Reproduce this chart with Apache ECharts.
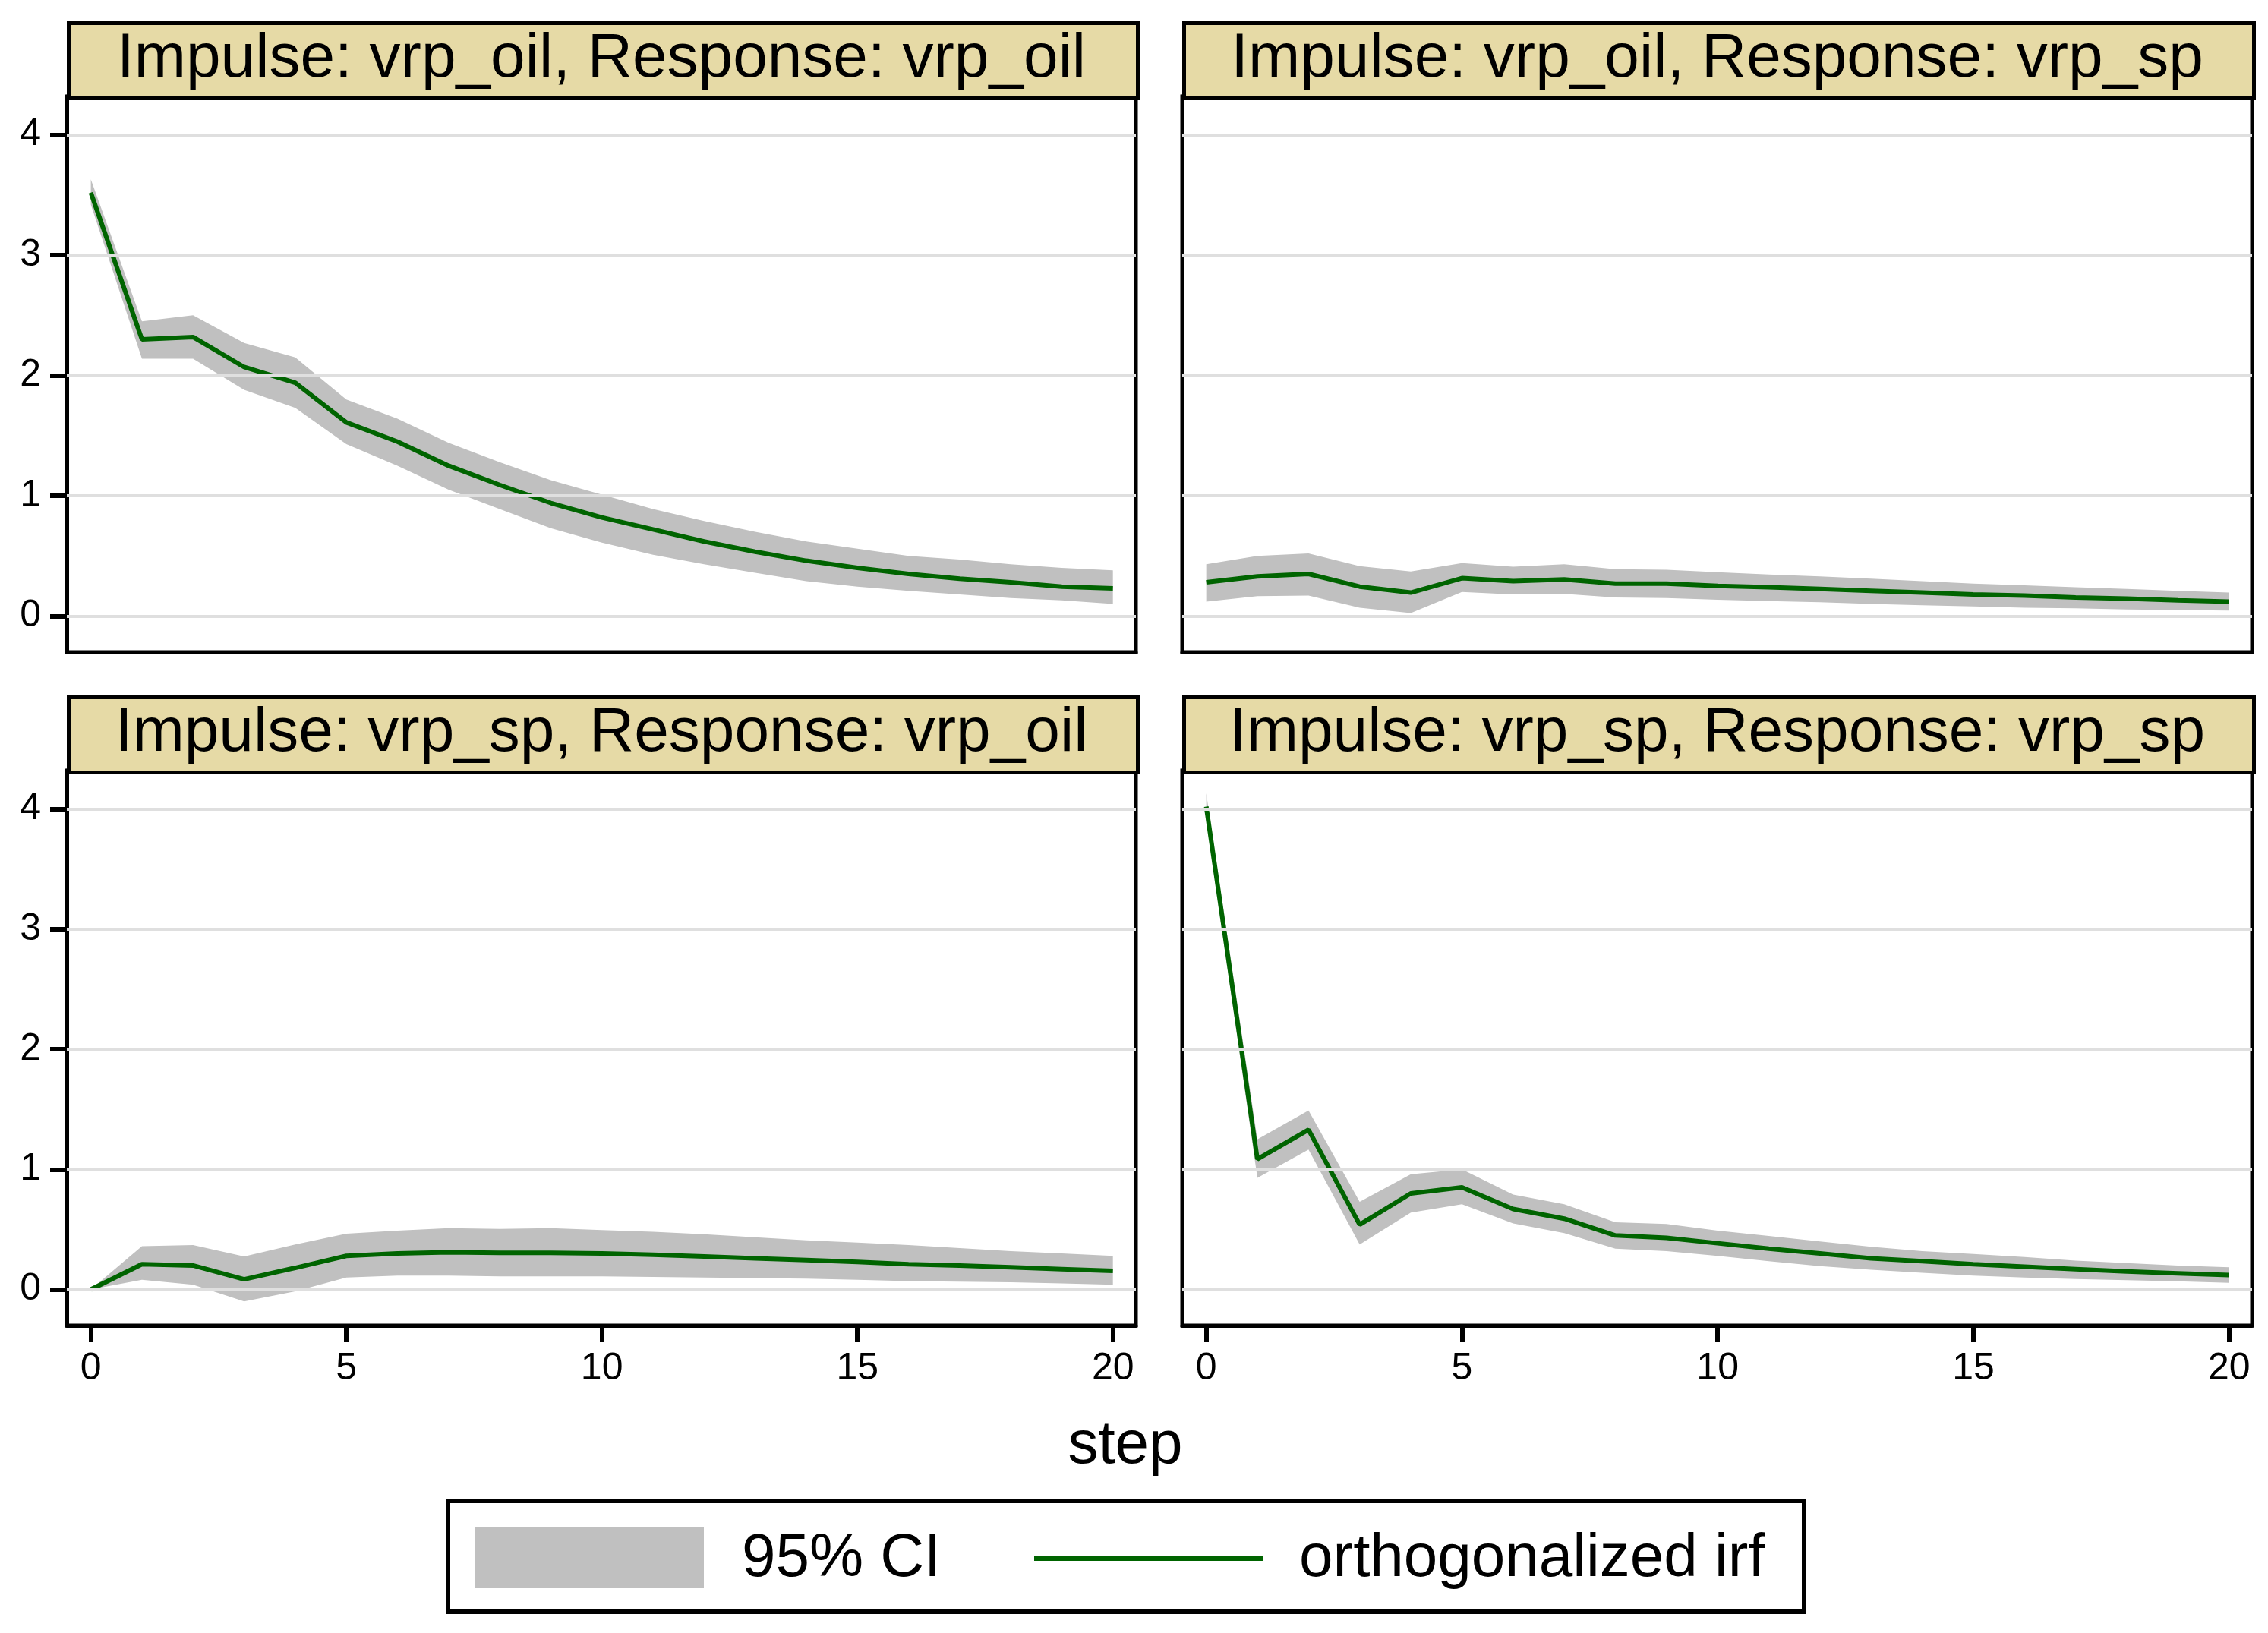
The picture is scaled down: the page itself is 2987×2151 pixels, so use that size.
<!DOCTYPE html>
<html>
<head>
<meta charset="utf-8">
<script src="https://cdn.jsdelivr.net/npm/echarts@6/dist/echarts.min.js"></script>
<style>html,body{margin:0;padding:0;background:#fff;}#c{width:2987px;height:2151px;}</style>
</head>
<body>
<div id="c"></div>
<script>
// ---- data ----
const steps = [0,1,2,3,4,5,6,7,8,9,10,11,12,13,14,15,16,17,18,19,20];
const xTicks = [0,5,10,15,20];
const yTicks = [0,1,2,3,4];
const panelTitles = [
  'Impulse: vrp_oil, Response: vrp_oil',
  'Impulse: vrp_oil, Response: vrp_sp',
  'Impulse: vrp_sp, Response: vrp_oil',
  'Impulse: vrp_sp, Response: vrp_sp'
];
const legendLabels = ['95% CI', 'orthogonalized irf'];
const xTitle = 'step';

// Impulse vrp_oil -> Response vrp_oil
const oo_irf = [3.52,2.30,2.32,2.07,1.94,1.61,1.45,1.25,1.09,0.94,0.82,0.72,0.62,0.535,0.46,0.40,0.35,0.31,0.28,0.245,0.23];
const oo_hi  = [3.63,2.45,2.50,2.27,2.15,1.80,1.64,1.44,1.28,1.13,1.01,0.89,0.79,0.70,0.62,0.56,0.50,0.47,0.43,0.40,0.38];
const oo_lo  = [3.42,2.14,2.14,1.88,1.73,1.43,1.25,1.05,0.89,0.73,0.61,0.51,0.43,0.36,0.29,0.245,0.21,0.18,0.15,0.13,0.10];
// Impulse vrp_oil -> Response vrp_sp
const os_irf = [0.28,0.33,0.35,0.245,0.195,0.315,0.29,0.305,0.27,0.27,0.25,0.24,0.225,0.21,0.195,0.18,0.17,0.155,0.145,0.13,0.12];
const os_hi  = [0.43,0.50,0.52,0.415,0.37,0.44,0.41,0.43,0.39,0.385,0.365,0.345,0.33,0.31,0.29,0.27,0.255,0.24,0.225,0.21,0.195];
const os_lo  = [0.12,0.165,0.17,0.07,0.025,0.20,0.18,0.185,0.155,0.15,0.135,0.125,0.115,0.10,0.09,0.08,0.07,0.065,0.055,0.05,0.045];
// Impulse vrp_sp -> Response vrp_oil
const so_irf = [0,0.21,0.20,0.085,0.18,0.28,0.30,0.31,0.305,0.305,0.30,0.29,0.275,0.26,0.245,0.23,0.21,0.20,0.185,0.17,0.155];
const so_hi  = [0,0.36,0.37,0.275,0.375,0.465,0.49,0.51,0.505,0.51,0.495,0.48,0.46,0.435,0.41,0.39,0.37,0.345,0.32,0.30,0.28];
const so_lo  = [0,0.08,0.04,-0.10,-0.015,0.10,0.115,0.115,0.11,0.11,0.11,0.105,0.10,0.095,0.09,0.08,0.07,0.065,0.06,0.05,0.04];
// Impulse vrp_sp -> Response vrp_sp
const ss_irf = [4.02,1.085,1.33,0.54,0.80,0.85,0.67,0.59,0.45,0.43,0.385,0.34,0.30,0.26,0.235,0.21,0.19,0.17,0.15,0.135,0.12];
const ss_hi  = [4.13,1.25,1.49,0.73,0.96,1.00,0.79,0.71,0.56,0.545,0.49,0.445,0.40,0.355,0.32,0.295,0.27,0.24,0.22,0.20,0.185];
const ss_lo  = [3.91,0.93,1.165,0.375,0.64,0.71,0.55,0.47,0.34,0.32,0.28,0.235,0.195,0.165,0.14,0.115,0.10,0.087,0.077,0.068,0.055];

// ---- layout / style ----
const FONT = "'Liberation Sans', Arial, sans-serif";
const CI_COLOR = '#c0c0c0';
const IRF_COLOR = '#006400';
const HEADER_FILL = '#e6daa6';
const GRIDLINE = '#dfdfdf';

const panels = [
  {irf: oo_irf, lo: oo_lo, hi: oo_hi, left: 88,   top: 127,  width: 1408, height: 732, yLab: true,  xLab: false, hy: 28},
  {irf: os_irf, lo: os_lo, hi: os_hi, left: 1557, top: 127,  width: 1409, height: 732, yLab: false, xLab: false, hy: 28},
  {irf: so_irf, lo: so_lo, hi: so_hi, left: 88,   top: 1015, width: 1408, height: 731, yLab: true,  xLab: true,  hy: 916},
  {irf: ss_irf, lo: ss_lo, hi: ss_hi, left: 1557, top: 1015, width: 1409, height: 731, yLab: false, xLab: true,  hy: 916}
];

const grid = [], xAxis = [], yAxis = [], series = [], graphic = [];

panels.forEach((p, i) => {
  grid.push({left: p.left, top: p.top, width: p.width, height: p.height,
    show: true, borderColor: '#000', borderWidth: 5, backgroundColor: '#fff', containLabel: false});
  xAxis.push({type: 'value', gridIndex: i, min: -0.47, max: 20.45,
    axisLine: {show: true, onZero: false, lineStyle: {color: '#000', width: 5}},
    splitLine: {show: false},
    axisTick: {show: p.xLab, customValues: xTicks, length: 22, inside: false, lineStyle: {color: '#000', width: 6}},
    axisLabel: {show: p.xLab, customValues: xTicks, fontSize: 50, fontFamily: FONT, color: '#000', margin: 32}
  });
  yAxis.push({type: 'value', gridIndex: i, min: -0.3, max: 4.32,
    axisLine: {show: true, onZero: false, lineStyle: {color: '#000', width: 5}},
    splitLine: {show: false},
    axisTick: {show: p.yLab, customValues: yTicks, length: 22, inside: false, lineStyle: {color: '#000', width: 6}},
    axisLabel: {show: p.yLab, customValues: yTicks, fontSize: 50, fontFamily: FONT, color: '#000', margin: 34}
  });
  // horizontal grid lines
  series.push({type: 'line', xAxisIndex: i, yAxisIndex: i, data: [], z: 1, silent: true,
    markLine: {silent: true, symbol: ['none','none'], label: {show: false}, animation: false,
      lineStyle: {color: GRIDLINE, width: 4, type: 'solid'},
      data: yTicks.map(v => ({yAxis: v}))}
  });
  // CI band as a polygon through the axes' scales
  const lo = p.lo, hi = p.hi;
  series.push({type: 'custom', xAxisIndex: i, yAxisIndex: i, z: 2, silent: true,
    data: steps.map((s, k) => [s, lo[k], hi[k]]),
    encode: {x: 0, y: [1, 2]},
    renderItem: function (params, api) {
      if (params.dataIndex !== 0) return null;
      const upper = steps.map((s, k) => api.coord([s, hi[k]]));
      const lower = steps.map((s, k) => api.coord([s, lo[k]])).reverse();
      return {type: 'polygon', shape: {points: upper.concat(lower)},
        style: {fill: CI_COLOR, stroke: null}};
    }
  });
  // IRF line
  series.push({type: 'line', xAxisIndex: i, yAxisIndex: i,
    data: steps.map((s, k) => [s, p.irf[k]]), symbol: 'none', z: 3,
    lineStyle: {color: IRF_COLOR, width: 6}});
  // header strip
  graphic.push({type: 'rect', left: p.left, top: p.hy, z: 10,
    shape: {x: 0, y: 0, width: p.width, height: p.top - p.hy},
    style: {fill: HEADER_FILL, stroke: '#000', lineWidth: 5}});
  graphic.push({type: 'text', z: 11, x: p.left + p.width / 2, y: p.hy + (p.top - p.hy) / 2 + 1,
    style: {text: panelTitles[i], fontSize: 82, fontFamily: FONT, fill: '#000', align: 'center', verticalAlign: 'middle'}});
});

// x-axis title
graphic.push({type: 'text', x: 1482, y: 1905, z: 11,
  style: {text: xTitle, fontSize: 80, fontFamily: FONT, fill: '#000', align: 'center', verticalAlign: 'middle'}});
// legend
graphic.push({type: 'rect', z: 10, shape: {x: 590, y: 1977, width: 1786, height: 146},
  style: {fill: '#fff', stroke: '#000', lineWidth: 6}});
graphic.push({type: 'rect', z: 11, shape: {x: 625, y: 2011, width: 302, height: 81},
  style: {fill: CI_COLOR}});
graphic.push({type: 'text', z: 11, x: 977, y: 2054,
  style: {text: legendLabels[0], fontSize: 80, fontFamily: FONT, fill: '#000', align: 'left', verticalAlign: 'middle'}});
graphic.push({type: 'line', z: 11, shape: {x1: 1362, y1: 2053, x2: 1663, y2: 2053},
  style: {stroke: IRF_COLOR, lineWidth: 6}});
graphic.push({type: 'text', z: 11, x: 1711, y: 2054,
  style: {text: legendLabels[1], fontSize: 80, fontFamily: FONT, fill: '#000', align: 'left', verticalAlign: 'middle'}});

const chart = echarts.init(document.getElementById('c'), null, {renderer: 'canvas', width: 2987, height: 2151});
chart.setOption({
  animation: false,
  backgroundColor: '#fff',
  grid, xAxis, yAxis, series, graphic
});
</script>
</body>
</html>
